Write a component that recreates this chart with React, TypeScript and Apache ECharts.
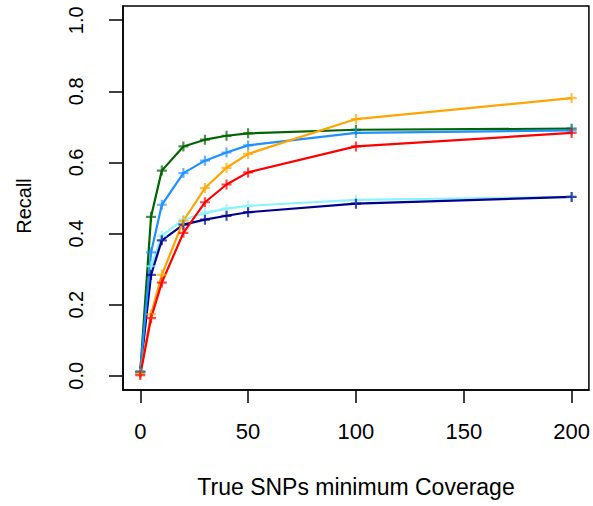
import React, { useEffect, useRef } from "react";
import * as echarts from "echarts";

// Minimum coverage thresholds (x) and recall of each caller at each threshold
const coverage = [0, 5, 10, 20, 30, 40, 50, 100, 200];

const recallCyan = [0.01, 0.308, 0.394, 0.439, 0.458, 0.47, 0.478, 0.495, 0.503];
const recallNavy = [0.01, 0.284, 0.381, 0.425, 0.439, 0.45, 0.46, 0.484, 0.503];
const recallGreen = [0.012, 0.447, 0.577, 0.645, 0.664, 0.675, 0.682, 0.692, 0.695];
const recallBlue = [0.012, 0.347, 0.481, 0.57, 0.605, 0.628, 0.648, 0.683, 0.69];
const recallRed = [0.002, 0.162, 0.262, 0.402, 0.488, 0.538, 0.572, 0.645, 0.683];
const recallOrange = [0.006, 0.173, 0.284, 0.436, 0.528, 0.585, 0.624, 0.722, 0.781];

const xTicks = [0, 50, 100, 150, 200];
const yTicks = [0, 0.2, 0.4, 0.6, 0.8, 1.0];

const FONT = "'Liberation Sans', Arial, Helvetica, sans-serif";
const PLUS = "path://M5,0L5,10M0,5L10,5";

function makeSeries(name: string, values: number[], color: string) {
  return {
    name,
    type: "line",
    data: coverage.map((c, i) => [c, values[i]]),
    lineStyle: { color, width: 2.2 },
    symbol: PLUS,
    symbolSize: 10,
    symbolKeepAspect: true,
    itemStyle: { color: "rgba(0,0,0,0)", borderColor: color, borderWidth: 2.2, opacity: 0.7 },
    emphasis: { disabled: true },
    z: 2,
  };
}

const axisLine = { show: true, onZero: false, lineStyle: { color: "#000", width: 1.5 } };

export default function App() {
  const ref = useRef<HTMLDivElement>(null);

  useEffect(() => {
    if (!ref.current) return;
    const chart = echarts.init(ref.current, undefined, { renderer: "svg" });
    chart.setOption({
      animation: false,
      backgroundColor: "#fff",
      grid: {
        left: 123,
        right: 3,
        top: 6,
        bottom: 116,
        show: true,
        borderColor: "#000",
        borderWidth: 1.5,
        backgroundColor: "transparent",
      },
      xAxis: {
        type: "value",
        position: "bottom",
        min: -8,
        max: 208,
        splitLine: { show: false },
        axisLine,
        axisTick: {
          show: true,
          inside: false,
          length: 13,
          customValues: xTicks,
          lineStyle: { color: "#000", width: 1.5 },
        },
        axisLabel: {
          customValues: xTicks,
          margin: 30,
          color: "#000",
          fontSize: 22,
          fontFamily: FONT,
        },
      },
      yAxis: {
        type: "value",
        position: "left",
        min: -0.04,
        max: 1.04,
        splitLine: { show: false },
        axisLine,
        axisTick: {
          show: true,
          inside: false,
          length: 14,
          customValues: yTicks,
          lineStyle: { color: "#000", width: 1.5 },
        },
        axisLabel: {
          customValues: yTicks,
          rotate: 90,
          margin: 37,
          color: "#000",
          fontSize: 20,
          fontFamily: FONT,
          formatter: (v: number) => v.toFixed(1),
        },
      },
      graphic: [
        {
          type: "text",
          x: 356,
          y: 487,
          style: {
            text: "True SNPs minimum Coverage",
            fontSize: 23,
            fontFamily: FONT,
            fill: "#000",
            textAlign: "center",
            textVerticalAlign: "middle",
          },
        },
        {
          type: "text",
          x: 24,
          y: 206,
          rotation: Math.PI / 2,
          style: {
            text: "Recall",
            fontSize: 20,
            fontFamily: FONT,
            fill: "#000",
            textAlign: "center",
            textVerticalAlign: "middle",
          },
        },
      ],
      series: [
        makeSeries("cyan", recallCyan, "#8AF3FF"),
        makeSeries("navy", recallNavy, "#00008B"),
        makeSeries("green", recallGreen, "#006400"),
        makeSeries("blue", recallBlue, "#1E90FF"),
        makeSeries("orange", recallOrange, "#FFA500"),
        makeSeries("red", recallRed, "#FF0000"),
      ],
    });
    return () => chart.dispose();
  }, []);

  return <div ref={ref} style={{ width: 593, height: 506, position: "absolute", left: 0, top: 0 }} />;
}
